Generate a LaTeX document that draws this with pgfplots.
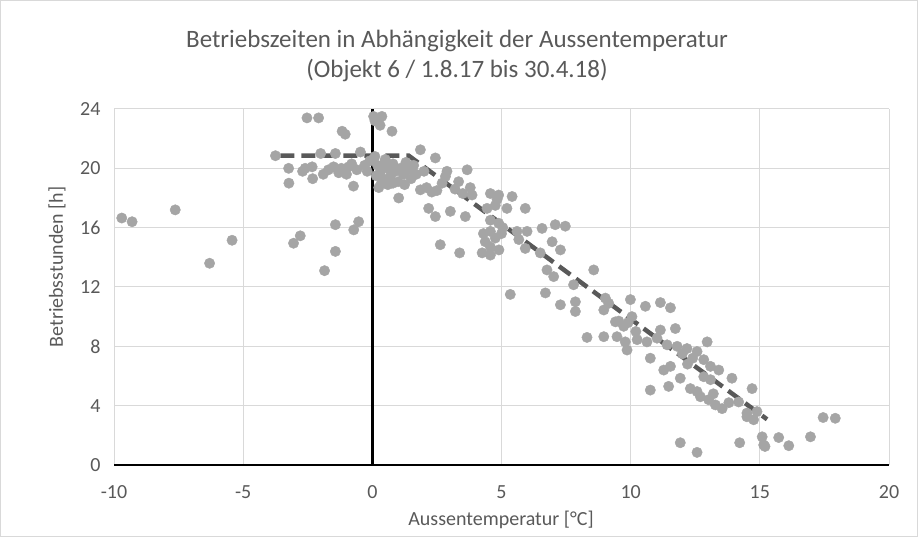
\documentclass[border=0pt]{standalone}
\usepackage{pgfplots}
\pgfplotsset{compat=1.18}
\usepackage{fontspec}
\setmainfont{Carlito}
\definecolor{txt}{HTML}{595959}
\definecolor{grd}{HTML}{D9D9D9}
\definecolor{pts}{HTML}{A5A5A5}
\definecolor{trend}{HTML}{595959}
\begin{document}
\begin{tikzpicture}
\useasboundingbox (0pt,0pt) rectangle (918pt,537pt);
\draw[grd, line width=1pt] (0.5pt,0.5pt) rectangle (917.5pt,536.5pt);
\node[text=txt, font=\fontsize{25}{30}\selectfont] at (457pt,496pt) {Betriebszeiten in Abhängigkeit der Aussentemperatur};
\node[text=txt, font=\fontsize{25}{30}\selectfont] at (457pt,466pt) {(Objekt 6 / 1.8.17 bis 30.4.18)};
\node[text=txt, font=\fontsize{20}{24}\selectfont] at (501pt,17pt) {Aussentemperatur [°C]};
\node[text=txt, font=\fontsize{20}{24}\selectfont, rotate=90] at (57pt,270pt) {Betriebsstunden [h]};
\begin{axis}[
  at={(114pt,72pt)}, anchor=south west,
  scale only axis, width=775pt, height=356pt,
  xmin=-10, xmax=20, ymin=0, ymax=24,
  xtick={-10,-5,...,20}, ytick={0,4,...,24},
  grid=major, major grid style={grd, line width=1pt},
  axis line style={draw=none},
  major tick length=0pt,
  tick label style={font=\fontsize{20}{24}\selectfont, text=txt},
  /pgf/number format/assume math mode=true,
  xticklabel style={yshift=-17pt},
  yticklabel style={xshift=-10pt},
  clip=false,
]
\draw[black, line width=2.5pt] (axis cs:-10,0) -- (axis cs:20,0);
\draw[black, line width=2.5pt] (axis cs:0,0) -- (axis cs:0,24);
\addplot[only marks, mark=*, mark size=5.2pt, mark options={fill=pts, draw=pts}] table {
x y
-9.7 16.65
-9.3 16.4
-7.63 17.2
-6.3 13.6
-5.43 15.15
-3.75 20.85
-3.24 20.0
-3.23 19.0
-3.05 14.95
-2.79 15.45
-2.53 23.4
-2.08 23.4
-2.31 19.3
-2.33 20.1
-2.0 21.0
-1.85 13.1
-1.7 19.9
-1.5 20.1
-1.43 21.0
-1.43 16.2
-1.43 14.4
-1.3 19.7
-1.2 20.0
-1.17 22.5
-1.05 22.3
-0.92 20.1
-0.73 18.8
-0.72 15.85
-0.53 16.4
-0.6 19.9
-0.46 21.1
-0.3 20.2
-0.1 20.5
-0.2 19.8
-0.8 20.3
-1.0 19.6
-1.9 19.6
-2.6 20.0
-2.7 19.8
0.05 23.5
0.37 23.5
0.1 23.2
0.3 22.9
0.76 22.5
0.1 20.8
0.2 20.2
0.3 19.7
0.4 19.3
0.5 20.6
0.6 20.0
0.7 19.5
0.8 20.3
0.9 19.8
1.0 19.1
1.1 20.0
1.2 19.6
1.3 20.4
1.4 19.9
1.5 19.3
0.25 18.7
0.35 19.0
0.6 18.9
0.8 19.0
1.02 18.0
1.6 20.2
1.7 19.6
1.86 21.25
2.0 19.8
2.44 20.7
0.15 19.5
0.45 20.3
1.25 18.9
1.86 18.55
2.1 18.7
2.3 18.4
2.5 18.5
2.7 19.0
2.83 19.45
2.89 19.8
2.18 17.3
2.44 16.75
3.02 17.1
2.63 14.85
3.38 14.3
3.34 19.1
3.6 16.75
3.67 19.9
3.79 18.7
3.86 18.2
3.2 18.6
3.5 18.3
4.57 18.3
4.89 18.2
5.41 18.1
4.83 17.9
4.44 17.3
4.76 17.5
5.21 17.3
5.92 17.3
4.57 16.5
4.89 16.3
4.57 15.75
4.76 15.3
4.37 15.05
4.57 14.7
4.25 14.3
4.57 14.15
4.9 14.5
5.0 15.6
5.05 16.0
4.3 15.6
5.6 15.75
5.99 15.75
5.67 15.2
5.92 14.6
6.57 15.95
7.08 16.2
7.47 16.1
6.96 15.05
7.28 14.5
6.5 14.3
6.76 13.15
7.02 12.7
8.57 13.15
7.79 12.15
5.34 11.5
6.7 11.6
7.28 10.8
7.86 11.0
7.86 10.35
9.02 11.25
9.15 10.9
8.96 10.45
9.99 11.15
10.57 10.7
11.15 10.95
11.54 10.6
9.41 9.65
9.54 9.7
9.73 9.35
10.05 10.0
8.31 8.6
8.96 8.65
9.47 8.65
9.79 8.3
9.86 7.75
10.25 8.45
10.63 8.3
11.02 8.55
11.15 9.1
11.73 9.2
10.76 7.2
11.41 8.1
11.8 8.0
12.18 7.85
12.57 7.65
12.96 8.3
11.28 6.4
11.54 6.65
11.92 5.85
11.47 5.3
10.76 5.05
12.31 5.15
12.57 4.95
12.83 7.1
13.09 6.65
13.41 6.4
12.83 5.95
13.09 5.75
13.92 5.85
14.7 5.15
13.02 4.4
13.28 4.05
13.54 3.8
14.18 4.25
14.5 3.5
14.76 3.05
14.89 3.6
14.5 3.25
15.09 1.9
15.15 1.35
15.2 1.25
14.22 1.5
11.92 1.5
12.57 0.85
15.73 1.85
16.12 1.3
16.96 1.9
17.45 3.2
17.92 3.15
12.0 7.5
12.4 7.2
13.2 4.8
12.7 4.6
13.8 4.2
10.2 9.0
9.9 9.6
12.2 6.8
};
\addplot[trend, line width=4.5pt, dash pattern=on 14pt off 7pt] coordinates {(-3.56,20.85) (1.41,20.85) (15.28,3.08)};
\end{axis}
\end{tikzpicture}
\end{document}
